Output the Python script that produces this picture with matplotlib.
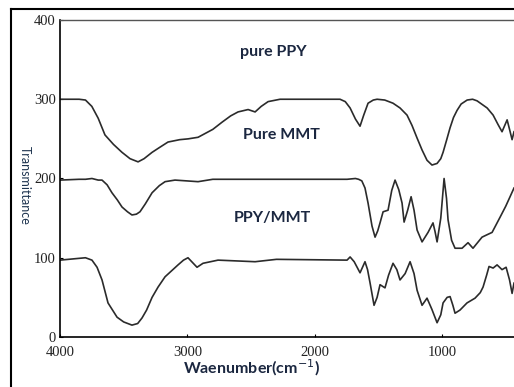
import numpy as np
import matplotlib.pyplot as plt
from matplotlib.lines import Line2D

# FTIR spectra, values (wavenumber cm-1, transmittance offset)
wn_ppy = [4000, 3850, 3800, 3750, 3700, 3647, 3580, 3513, 3450, 3387, 3340, 3277,
          3220, 3152, 3060, 2995, 2916, 2800, 2728, 2660, 2602, 2523, 2468, 2420,
          2366, 2272, 1801, 1760, 1722, 1680, 1644, 1615, 1581, 1540, 1510, 1450,
          1385, 1330, 1275, 1236, 1196, 1157, 1118, 1079, 1039, 1010, 992, 965,
          937, 910, 882, 850, 803, 760, 725, 690, 646, 599, 560, 529, 489, 470,
          450, 435]
t_ppy = [300, 300, 299, 291, 276, 255, 243, 233, 225, 221, 225, 233,
         239, 246, 249, 250, 252, 262, 271, 279, 284, 287, 284, 291,
         297, 300, 300, 297, 289, 275, 266, 280, 295, 299, 300, 299,
         295, 289, 280, 267, 251, 236, 223, 217, 219, 225, 233, 248,
         264, 277, 286, 294, 299, 300, 298, 294, 289, 280, 268, 259, 274, 262,
         249, 259]

wn_mmt = [4000, 3850, 3800, 3749, 3700, 3670, 3630, 3592, 3550, 3513, 3470, 3435,
          3400, 3372, 3330, 3277, 3220, 3175, 3097, 2916, 2800, 1746, 1680, 1655,
          1630, 1605, 1581, 1550, 1526, 1505, 1487, 1463, 1424, 1395, 1369, 1340,
          1314, 1298, 1270, 1243, 1220, 1196, 1157, 1110, 1071, 1055, 1039, 1010,
          984, 965, 953, 925, 898, 843, 796, 757, 686, 647, 607, 545, 500, 466, 435]
t_mmt = [198, 199, 199, 200, 198, 198, 192, 182, 173, 164, 158, 154,
         155, 158, 168, 182, 191, 196, 198, 196, 199, 199, 200, 199,
         197, 188, 169, 140, 126, 134, 144, 158, 160, 185, 198, 186,
         169, 145, 160, 177, 160, 135, 120, 132, 144, 133, 120, 150,
         200, 175, 148, 122, 112, 112, 119, 112, 126, 129, 132, 151, 165, 177, 188]

wn_comp = [4000, 3800, 3749, 3709, 3670, 3623, 3552, 3500, 3435, 3390, 3356, 3320,
           3277, 3230, 3175, 3073, 3030, 2995, 2924, 2877, 2759, 2468, 2300, 1746,
           1722, 1690, 1667, 1644, 1605, 1585, 1565, 1534, 1510, 1487, 1448, 1420,
           1385, 1355, 1330, 1290, 1251, 1220, 1196, 1157, 1118, 1080, 1039, 1010,
           992, 960, 937, 915, 898, 859, 804, 741, 700, 678, 650, 631, 599, 568,
           529, 497, 470, 450, 435]
t_comp = [97, 100, 97, 88, 72, 43, 25, 19, 15, 17, 24, 34,
          50, 63, 76, 91, 97, 100, 88, 93, 97, 95, 98, 97,
          101, 95, 88, 81, 95, 85, 68, 40, 50, 66, 62, 78,
          93, 85, 72, 80, 95, 80, 59, 40, 49, 35, 18, 28,
          43, 50, 51, 40, 30, 34, 43, 49, 56, 63, 78, 89, 87, 91,
          85, 88, 72, 55, 68]

fig = plt.figure(figsize=(5.14, 3.87), dpi=100)
ax = fig.add_axes([60/514, 1-337/387, 1-60/514, 317/387])

for wn, t in [(wn_ppy, t_ppy), (wn_mmt, t_mmt), (wn_comp, t_comp)]:
    ax.plot(wn, t, c='#2b2b2b', lw=1.2)

ax.set_xlim(4000, 435)
ax.set_ylim(0, 400)
ax.set_xticks([4000, 3000, 2000, 1000])
ax.set_yticks([0, 100, 200, 300, 400])
ax.tick_params(direction='in', length=2, width=0.8, pad=3)
ax.tick_params(axis='x', pad=6.5)
for lab in ax.get_xticklabels() + ax.get_yticklabels():
    lab.set_family('Liberation Serif')
    lab.set_fontsize(10.5)
    lab.set_color('#222222')
ax.spines['right'].set_visible(False)
ax.spines['top'].set_color('#555555')
ax.spines['top'].set_linestyle((0, (4, 1)))
ax.spines['top'].set_linewidth(1.0)
ax.spines['left'].set_linewidth(1.2)
ax.spines['bottom'].set_linewidth(1.2)

txt = dict(fontfamily='Lato', fontweight='bold', fontsize=11.5, color='#1b2740',
           ha='center', va='center')
ax.text(2327, 360, 'pure PPY', **txt)
ax.text(2264, 255, 'Pure MMT', **txt)
ax.text(2335, 150, 'PPY/MMT', **txt)

fig.text(252/514, 1-368/387, 'Waenumber(cm$^{-1}$)', fontfamily='Lato', fontweight='bold',
         fontsize=11.5, color='#1b2740', ha='center', va='center')
fig.text(25/514, 1-185/387, 'Transmittance', fontfamily='Lato', fontsize=9,
         color='#1f3550', rotation=270, ha='center', va='center')

# outer frame of the original figure (cropped at right and bottom)
fig.add_artist(Line2D([11/514, 11/514], [0, 1-9/387], transform=fig.transFigure, c='k', lw=1.5))
fig.add_artist(Line2D([11/514, 1], [1-9/387, 1-9/387], transform=fig.transFigure, c='k', lw=1.5))

plt.savefig('out.png', dpi=100)
